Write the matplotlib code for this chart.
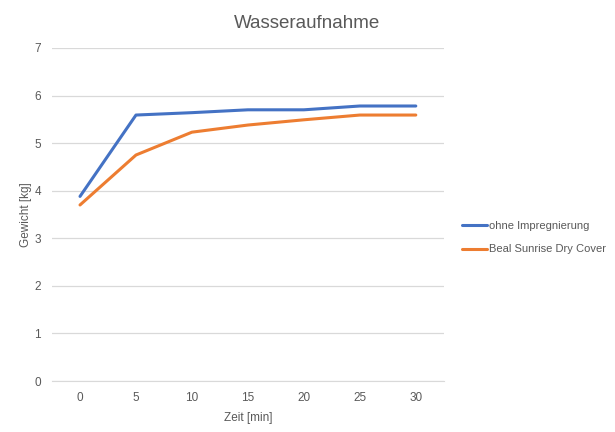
import matplotlib
matplotlib.use("Agg")
import matplotlib.pyplot as plt

# Data
zeit = ["0", "5", "10", "15", "20", "25", "30"]
ohne_impregnierung = [3.88, 5.59, 5.64, 5.70, 5.70, 5.78, 5.78]
beal_sunrise = [3.70, 4.75, 5.23, 5.38, 5.49, 5.59, 5.59]
y_ticks = [0, 1, 2, 3, 4, 5, 6, 7]

plt.rcParams["font.family"] = ["Liberation Sans", "DejaVu Sans"]
text_col = "#595959"
grid_col = "#d9d9d9"

fig = plt.figure(figsize=(6.15, 4.32), dpi=100)
ax = fig.add_axes([0.0846, 0.118, 0.637, 0.771])

x = range(len(zeit))
ax.plot(x, ohne_impregnierung, color="#4472c4", lw=2.2, label="ohne Impregnierung",
        solid_capstyle="round")
ax.plot(x, beal_sunrise, color="#ed7d31", lw=2.2, label="Beal Sunrise Dry Cover",
        solid_capstyle="round")

ax.set_xlim(-0.5, len(zeit) - 0.5)
ax.set_ylim(0, 7)
ax.set_xticks(list(x))
ax.set_xticklabels(zeit)
ax.set_yticks(y_ticks)
ax.yaxis.grid(True, color=grid_col, lw=0.9)
ax.set_axisbelow(True)
for s in ["top", "right", "left"]:
    ax.spines[s].set_visible(False)
ax.spines["bottom"].set_color(grid_col)
ax.tick_params(length=0, colors=text_col, labelsize=8.5, pad=8)

ax.set_xlabel("Zeit [min]", color=text_col, fontsize=8.5, labelpad=6)
ax.set_ylabel("Gewicht [kg]", color=text_col, fontsize=8.5, labelpad=2)
fig.suptitle("Wasseraufnahme", x=0.5, y=0.965, color=text_col, fontsize=13.5)

leg = ax.legend(loc="center left", bbox_to_anchor=(1.02, 0.43), frameon=False,
                fontsize=8, handlelength=2.3, handletextpad=0.2, labelspacing=1.2)
for t in leg.get_texts():
    t.set_color(text_col)

fig.savefig("out.png", dpi=100)
